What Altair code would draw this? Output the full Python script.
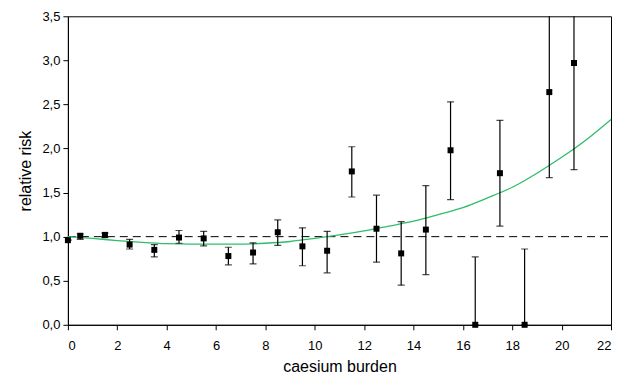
import altair as alt
import pandas as pd

# observed relative risk by caesium burden
burden = [0, 0.5, 1.5, 2.5, 3.5, 4.5, 5.5, 6.5, 7.5, 8.5, 9.5, 10.5, 11.5, 12.5, 13.5, 14.5, 15.5, 16.5, 17.5, 18.5, 19.5, 20.5]
risk   = [0.96, 1.01, 1.02, 0.91, 0.85, 0.99, 0.98, 0.78, 0.82, 1.05, 0.89, 0.84, 1.74, 1.09, 0.81, 1.08, 1.98, 0.0, 1.72, 0.0, 2.64, 2.97]
lower  = [0.96, 0.97, 0.99, 0.86, 0.77, 0.925, 0.895, 0.68, 0.69, 0.90, 0.67, 0.59, 1.45, 0.71, 0.45, 0.57, 1.42, 0.0, 1.12, 0.0, 1.67, 1.76]
upper  = [0.96, 1.03, 1.04, 0.97, 0.91, 1.07, 1.06, 0.88, 0.93, 1.19, 1.10, 1.06, 2.02, 1.47, 1.17, 1.58, 2.53, 0.77, 2.32, 0.86, 4.2, 4.2]

# fitted curve
fit_x = list(range(0, 23))
fit_y = [1.0, 0.98, 0.955, 0.935, 0.92, 0.915, 0.915, 0.915, 0.925, 0.945, 0.98, 1.02, 1.065, 1.12,
         1.175, 1.25, 1.33, 1.44, 1.56, 1.72, 1.90, 2.10, 2.33]

ref_x = [0, 22]
ref_y = [1.0, 1.0]

pts = pd.DataFrame({"x": burden, "y": risk, "lo": lower, "hi": upper})
fit = pd.DataFrame({"x": fit_x, "y": fit_y})
ref = pd.DataFrame({"x": ref_x, "y": ref_y})

label_expr = "replace(format(datum.value, '.1f'), '.', ',')"

xs = alt.Scale(domain=[0, 22], nice=False, zero=False)
ys = alt.Scale(domain=[0, 3.5], nice=False)

xax = alt.Axis(title="caesium burden", values=list(range(0, 23, 2)), grid=False,
               tickSize=5, labelPadding=10, titlePadding=6)
yax = alt.Axis(title="relative risk", values=[0, 0.5, 1, 1.5, 2, 2.5, 3, 3.5], grid=False,
               tickSize=5, labelExpr=label_expr, labelPadding=3, titlePadding=8)

X = alt.X("x:Q", scale=xs, axis=xax)
Y = alt.Y("y:Q", scale=ys, axis=yax)

refline = alt.Chart(ref).mark_line(color="black", strokeDash=[8, 5], strokeWidth=1).encode(
    x=alt.X("x:Q", scale=xs), y=alt.Y("y:Q", scale=ys))

fitline = alt.Chart(fit).mark_line(color="#2ebd6b", strokeWidth=1.3, interpolate="monotone").encode(
    x=alt.X("x:Q", scale=xs), y=alt.Y("y:Q", scale=ys))

bars = alt.Chart(pts).mark_rule(color="black", strokeWidth=1.2, clip=True).encode(
    x=alt.X("x:Q", scale=xs), y=alt.Y("lo:Q", scale=ys), y2="hi:Q")

cap_hi = alt.Chart(pts).mark_tick(color="black", size=7, thickness=1.2, orient="horizontal", clip=True).encode(
    x=alt.X("x:Q", scale=xs), y=alt.Y("hi:Q", scale=ys))
cap_lo = alt.Chart(pts).mark_tick(color="black", size=7, thickness=1.2, orient="horizontal", clip=True).encode(
    x=alt.X("x:Q", scale=xs), y=alt.Y("lo:Q", scale=ys))

squares = alt.Chart(pts).mark_square(color="black", size=36, opacity=1).encode(x=X, y=Y)

chart = alt.layer(refline, fitline, bars, cap_hi, cap_lo, squares).properties(
    width=544, height=309,
    background="white",
    autosize=alt.AutoSizeParams(type="none"),
    padding={"left": 60, "top": 8, "right": 10, "bottom": 60},
).configure_view(stroke="black", strokeWidth=1).configure_axis(
    domainColor="black", tickColor="black", labelColor="black", titleColor="black",
    labelFont="Liberation Sans", titleFont="Liberation Sans",
    labelFontSize=13, titleFontSize=16, titleFontWeight="normal",
)

chart.save("out.html", embed_options={"renderer": "svg", "actions": False})
